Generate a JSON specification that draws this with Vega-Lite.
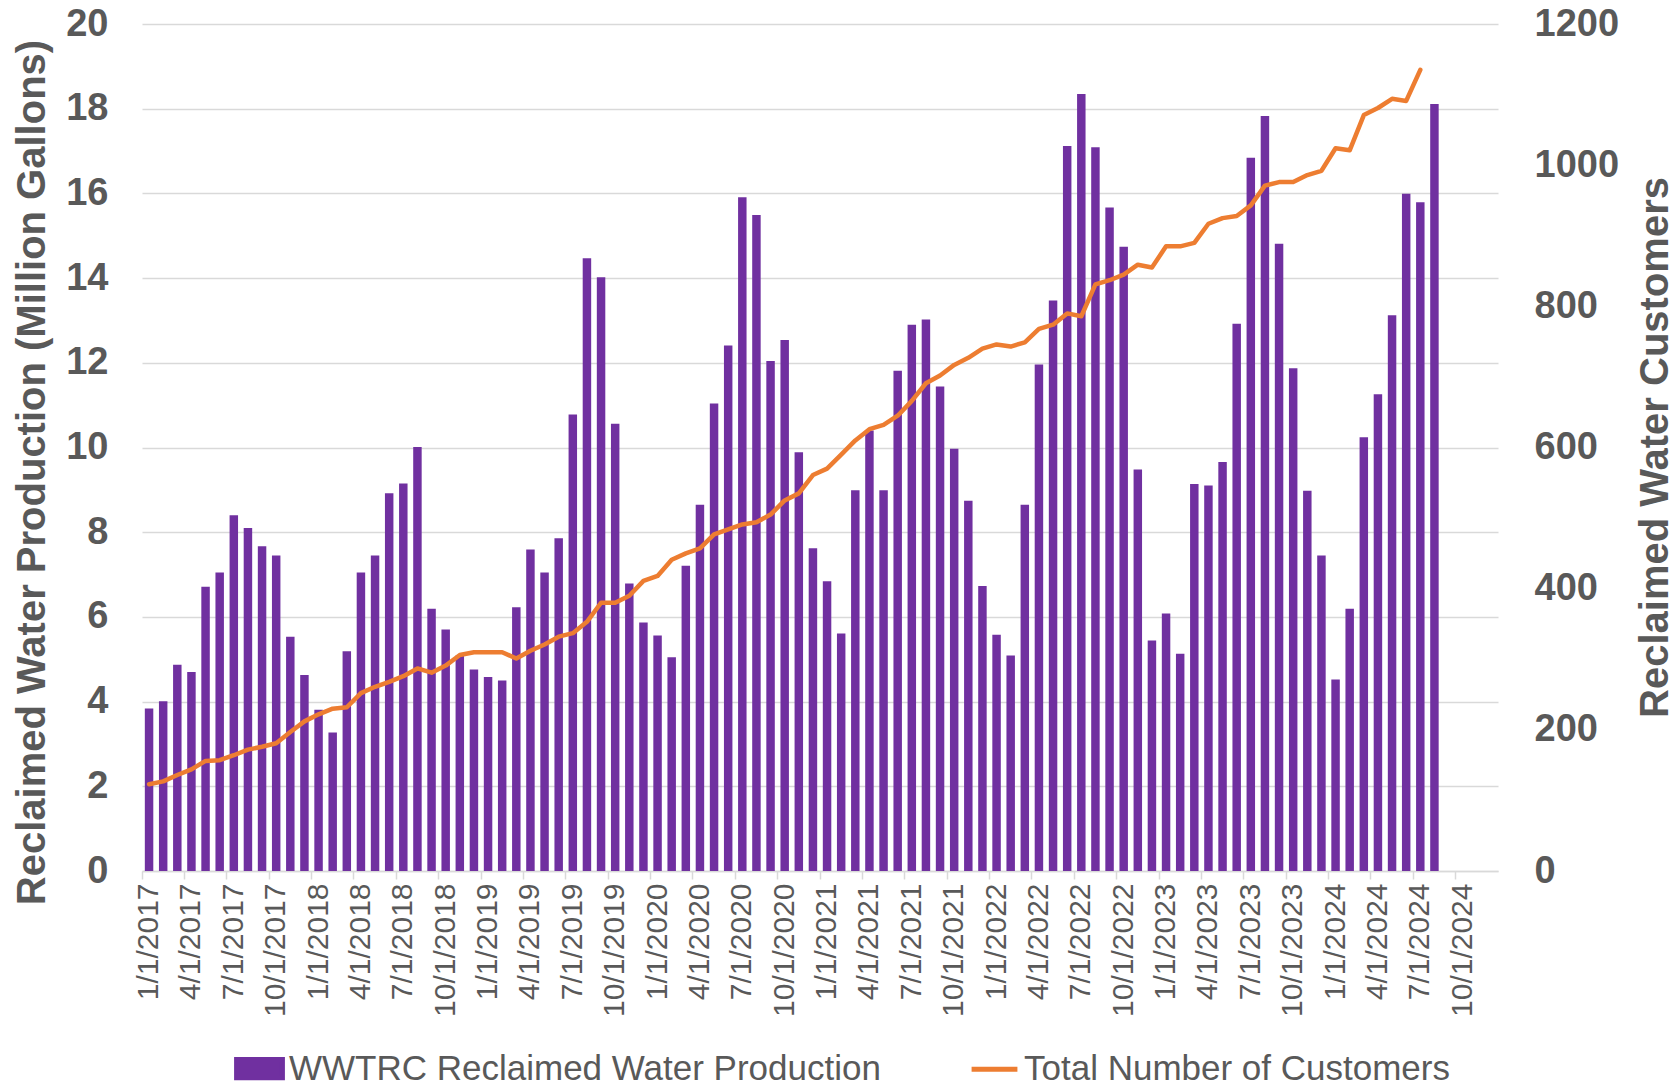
{
  "$schema": "https://vega.github.io/schema/vega-lite/v6.json",
  "autosize": {"type": "none"},
  "width": 1356,
  "height": 847,
  "padding": {"left": 142, "top": 24, "right": 182, "bottom": 217},
  "background": "white",
  "config": {"view": {"stroke": null}, "font": "Liberation Sans"},
  "data": {"values": [
    {"month": "2017-01", "production": 3.84, "customers": 123},
    {"month": "2017-02", "production": 4.01, "customers": 127},
    {"month": "2017-03", "production": 4.87, "customers": 136},
    {"month": "2017-04", "production": 4.70, "customers": 144},
    {"month": "2017-05", "production": 6.71, "customers": 156},
    {"month": "2017-06", "production": 7.05, "customers": 157},
    {"month": "2017-07", "production": 8.40, "customers": 164},
    {"month": "2017-08", "production": 8.10, "customers": 172},
    {"month": "2017-09", "production": 7.67, "customers": 176},
    {"month": "2017-10", "production": 7.45, "customers": 181},
    {"month": "2017-11", "production": 5.53, "customers": 197},
    {"month": "2017-12", "production": 4.63, "customers": 212},
    {"month": "2018-01", "production": 3.81, "customers": 222},
    {"month": "2018-02", "production": 3.27, "customers": 230},
    {"month": "2018-03", "production": 5.19, "customers": 232},
    {"month": "2018-04", "production": 7.05, "customers": 252},
    {"month": "2018-05", "production": 7.45, "customers": 261},
    {"month": "2018-06", "production": 8.92, "customers": 268},
    {"month": "2018-07", "production": 9.15, "customers": 276},
    {"month": "2018-08", "production": 10.01, "customers": 287},
    {"month": "2018-09", "production": 6.19, "customers": 281},
    {"month": "2018-10", "production": 5.70, "customers": 291},
    {"month": "2018-11", "production": 5.09, "customers": 306},
    {"month": "2018-12", "production": 4.76, "customers": 310},
    {"month": "2019-01", "production": 4.58, "customers": 310},
    {"month": "2019-02", "production": 4.50, "customers": 310},
    {"month": "2019-03", "production": 6.23, "customers": 301},
    {"month": "2019-04", "production": 7.59, "customers": 312},
    {"month": "2019-05", "production": 7.05, "customers": 321},
    {"month": "2019-06", "production": 7.86, "customers": 332},
    {"month": "2019-07", "production": 10.78, "customers": 337},
    {"month": "2019-08", "production": 14.47, "customers": 353},
    {"month": "2019-09", "production": 14.02, "customers": 380},
    {"month": "2019-10", "production": 10.56, "customers": 380},
    {"month": "2019-11", "production": 6.79, "customers": 390},
    {"month": "2019-12", "production": 5.87, "customers": 411},
    {"month": "2020-01", "production": 5.56, "customers": 418},
    {"month": "2020-02", "production": 5.05, "customers": 441},
    {"month": "2020-03", "production": 7.21, "customers": 450},
    {"month": "2020-04", "production": 8.65, "customers": 457},
    {"month": "2020-05", "production": 11.04, "customers": 477},
    {"month": "2020-06", "production": 12.41, "customers": 484},
    {"month": "2020-07", "production": 15.91, "customers": 491},
    {"month": "2020-08", "production": 15.49, "customers": 494},
    {"month": "2020-09", "production": 12.04, "customers": 505},
    {"month": "2020-10", "production": 12.54, "customers": 525},
    {"month": "2020-11", "production": 9.89, "customers": 535},
    {"month": "2020-12", "production": 7.62, "customers": 561},
    {"month": "2021-01", "production": 6.84, "customers": 570},
    {"month": "2021-02", "production": 5.61, "customers": 590},
    {"month": "2021-03", "production": 8.99, "customers": 610},
    {"month": "2021-04", "production": 10.40, "customers": 626},
    {"month": "2021-05", "production": 8.99, "customers": 632},
    {"month": "2021-06", "production": 11.81, "customers": 645},
    {"month": "2021-07", "production": 12.90, "customers": 666},
    {"month": "2021-08", "production": 13.02, "customers": 691},
    {"month": "2021-09", "production": 11.44, "customers": 702},
    {"month": "2021-10", "production": 9.97, "customers": 717},
    {"month": "2021-11", "production": 8.74, "customers": 727},
    {"month": "2021-12", "production": 6.73, "customers": 740},
    {"month": "2022-01", "production": 5.58, "customers": 746},
    {"month": "2022-02", "production": 5.09, "customers": 743},
    {"month": "2022-03", "production": 8.65, "customers": 749},
    {"month": "2022-04", "production": 11.96, "customers": 768},
    {"month": "2022-05", "production": 13.47, "customers": 774},
    {"month": "2022-06", "production": 17.12, "customers": 790},
    {"month": "2022-07", "production": 18.35, "customers": 786},
    {"month": "2022-08", "production": 17.09, "customers": 831},
    {"month": "2022-09", "production": 15.67, "customers": 837},
    {"month": "2022-10", "production": 14.74, "customers": 845},
    {"month": "2022-11", "production": 9.48, "customers": 859},
    {"month": "2022-12", "production": 5.44, "customers": 855},
    {"month": "2023-01", "production": 6.08, "customers": 885},
    {"month": "2023-02", "production": 5.13, "customers": 885},
    {"month": "2023-03", "production": 9.14, "customers": 890},
    {"month": "2023-04", "production": 9.10, "customers": 917},
    {"month": "2023-05", "production": 9.66, "customers": 925},
    {"month": "2023-06", "production": 12.92, "customers": 928},
    {"month": "2023-07", "production": 16.84, "customers": 943},
    {"month": "2023-08", "production": 17.83, "customers": 971},
    {"month": "2023-09", "production": 14.81, "customers": 976},
    {"month": "2023-10", "production": 11.87, "customers": 976},
    {"month": "2023-11", "production": 8.98, "customers": 986},
    {"month": "2023-12", "production": 7.45, "customers": 992},
    {"month": "2024-01", "production": 4.52, "customers": 1024},
    {"month": "2024-02", "production": 6.19, "customers": 1021},
    {"month": "2024-03", "production": 10.24, "customers": 1071},
    {"month": "2024-04", "production": 11.26, "customers": 1081},
    {"month": "2024-05", "production": 13.12, "customers": 1094},
    {"month": "2024-06", "production": 15.99, "customers": 1091},
    {"month": "2024-07", "production": 15.79, "customers": 1135},
    {"month": "2024-08", "production": 18.11, "customers": null}
  ]},
  "layer": [
    {
      "mark": {"type": "bar", "width": {"band": 0.6}},
      "encoding": {
        "x": {
          "field": "month", "type": "ordinal",
          "scale": {
            "domain": ["2017-01","2017-02","2017-03","2017-04","2017-05","2017-06","2017-07","2017-08","2017-09","2017-10","2017-11","2017-12",
                       "2018-01","2018-02","2018-03","2018-04","2018-05","2018-06","2018-07","2018-08","2018-09","2018-10","2018-11","2018-12",
                       "2019-01","2019-02","2019-03","2019-04","2019-05","2019-06","2019-07","2019-08","2019-09","2019-10","2019-11","2019-12",
                       "2020-01","2020-02","2020-03","2020-04","2020-05","2020-06","2020-07","2020-08","2020-09","2020-10","2020-11","2020-12",
                       "2021-01","2021-02","2021-03","2021-04","2021-05","2021-06","2021-07","2021-08","2021-09","2021-10","2021-11","2021-12",
                       "2022-01","2022-02","2022-03","2022-04","2022-05","2022-06","2022-07","2022-08","2022-09","2022-10","2022-11","2022-12",
                       "2023-01","2023-02","2023-03","2023-04","2023-05","2023-06","2023-07","2023-08","2023-09","2023-10","2023-11","2023-12",
                       "2024-01","2024-02","2024-03","2024-04","2024-05","2024-06","2024-07","2024-08","2024-09","2024-10","2024-11","2024-12"],
            "paddingInner": 0, "paddingOuter": 0
          },
          "axis": {
            "title": null,
            "values": ["2017-01","2017-04","2017-07","2017-10","2018-01","2018-04","2018-07","2018-10","2019-01","2019-04","2019-07","2019-10",
                       "2020-01","2020-04","2020-07","2020-10","2021-01","2021-04","2021-07","2021-10","2022-01","2022-04","2022-07","2022-10",
                       "2023-01","2023-04","2023-07","2023-10","2024-01","2024-04","2024-07","2024-10"],
            "labelExpr": "toNumber(slice(datum.value,5,7)) + '/1/' + slice(datum.value,0,4)",
            "bandPosition": 0,
            "labelAngle": -90,
            "labelFontSize": 30,
            "labelColor": "#595959",
            "labelPadding": 4,
            "domain": true, "domainColor": "#d9d9d9", "domainWidth": 1.5,
            "ticks": true, "tickColor": "#d9d9d9", "tickWidth": 1.5, "tickSize": 8,
            "grid": false,
            "labelOverlap": false
          }
        },
        "y": {
          "field": "production", "type": "quantitative",
          "scale": {"domain": [0, 20], "nice": false},
          "axis": {
            "title": "Reclaimed Water Production (Million Gallons)",
            "values": [0, 2, 4, 6, 8, 10, 12, 14, 16, 18, 20],
            "grid": true, "gridColor": "#d9d9d9", "gridWidth": 1.5,
            "domain": false, "ticks": false,
            "labelFontSize": 38, "labelFontWeight": "bold", "labelColor": "#595959", "labelPadding": 34,
            "titleFontSize": 40, "titleFontWeight": "bold", "titleColor": "#595959",
            "titleAngle": -90, "titleAlign": "center", "titleBaseline": "middle",
            "titleX": -110, "titleY": 448
          }
        },
        "color": {
          "datum": "WWTRC Reclaimed Water Production", "type": "nominal",
          "scale": {"domain": ["WWTRC Reclaimed Water Production", "Total Number of Customers"], "range": ["#7030A0", "#ED7D31"]},
          "legend": {
            "orient": "none", "legendX": 92, "legendY": 1019,
            "direction": "horizontal", "title": null,
            "labelFontSize": 35, "labelColor": "#595959", "labelLimit": 0,
            "symbolSize": 2100, "columnPadding": 80, "labelOffset": 4,
            "encode": {
              "symbols": {
                "update": {
                  "shape": {"signal": "datum.value === 'Total Number of Customers' ? 'stroke' : 'M-1,-0.4H1V0.4H-1Z'"},
                  "fill": {"signal": "datum.value === 'Total Number of Customers' ? 'transparent' : '#7030A0'"},
                  "stroke": {"signal": "datum.value === 'Total Number of Customers' ? '#ED7D31' : 'transparent'"},
                  "strokeWidth": {"value": 5},
                  "opacity": {"value": 1}
                }
              }
            }
          }
        }
      }
    },
    {
      "mark": {"type": "line", "strokeWidth": 4.5, "strokeJoin": "round", "strokeCap": "round"},
      "encoding": {
        "x": {"field": "month", "type": "ordinal"},
        "y": {
          "field": "customers", "type": "quantitative",
          "scale": {"domain": [0, 1200], "nice": false},
          "axis": {
            "orient": "right",
            "title": "Reclaimed Water Customers",
            "values": [0, 200, 400, 600, 800, 1000, 1200],
            "format": "d",
            "grid": false, "domain": false, "ticks": false,
            "labelFontSize": 38, "labelFontWeight": "bold", "labelColor": "#595959", "labelPadding": 36,
            "titleFontSize": 40, "titleFontWeight": "bold", "titleColor": "#595959",
            "titleAngle": -90, "titleAlign": "center", "titleBaseline": "middle",
            "titleX": 157, "titleY": 423
          }
        },
        "color": {"datum": "Total Number of Customers", "type": "nominal"}
      }
    }
  ],
  "resolve": {"scale": {"y": "independent"}}
}
